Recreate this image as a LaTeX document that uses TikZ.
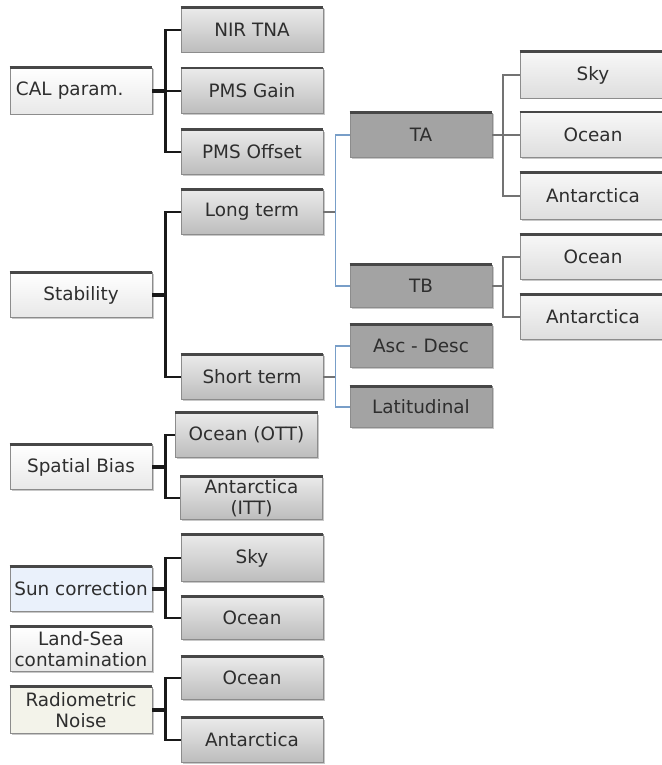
\documentclass[tikz,border=0pt]{standalone}
\usepackage{fontspec}
\setmainfont{DejaVu Sans}
\usetikzlibrary{shadows}
\definecolor{bluec}{RGB}{120,158,200}
\definecolor{sunfill}{RGB}{234,241,251}
\definecolor{radfill}{RGB}{243,243,234}
\tikzset{
  base/.style={draw=black!45, line width=0.6pt, minimum height=44pt, minimum width=142pt,
    inner sep=2pt, text=black!82, font=\fontsize{18.4}{21}\selectfont, align=center,
    drop shadow={shadow xshift=1.5pt, shadow yshift=-1.5pt, opacity=0.3, fill=black!70}},
  parentbox/.style={base, top color=white, bottom color=black!9},
  childbox/.style={base, top color=black!8, bottom color=black!26},
  leafbox/.style={base, top color=black!3, bottom color=black!13, minimum width=146pt},
  darkbox/.style={base, fill=black!36},
  topline/.style={line width=2.6pt, black!72},
  blackconn/.style={line width=2.5pt, black!90},
  stemconn/.style={line width=4pt, black!90},
  greyconn/.style={line width=2pt, black!55},
  blueconn/.style={line width=1.5pt, bluec},
}
\begin{document}
\begin{tikzpicture}[x=1pt,y=-1pt]
\useasboundingbox[fill=white] (0,0) rectangle (661,765);
% left parents
\node[parentbox, text width=130pt, align=left, minimum height=46pt] (cal) at (81,91) {CAL param.};
\node[parentbox, minimum height=45pt] (stab) at (81,295) {Stability};
\node[parentbox, minimum height=45pt] (spatial) at (81,467) {Spatial Bias};
\node[base, fill=sunfill, minimum height=45pt] (sun) at (81,589) {Sun correction};
\node[parentbox, minimum height=45pt] (land) at (81,649) {Land-Sea\\contamination};
\node[base, fill=radfill, minimum height=46pt] (radio) at (81,710) {Radiometric\\Noise};
% second column
\node[childbox] (nir) at (252,30) {NIR TNA};
\node[childbox, minimum height=45pt] (gain) at (252,91) {PMS Gain};
\node[childbox] (offset) at (252,152) {PMS Offset};
\node[childbox, minimum height=45pt] (long) at (252,212) {Long term};
\node[childbox, minimum height=45pt] (short) at (252,377) {Short term};
\node[childbox] (ott) at (246.5,435) {Ocean (OTT)};
\node[childbox, minimum height=43pt] (itt) at (251.5,498) {Antarctica\\(ITT)};
\node[childbox, minimum height=47pt] (sky2) at (252,558) {Sky};
\node[childbox, minimum height=43pt] (ocean2) at (252,618) {Ocean};
\node[childbox, minimum height=43pt] (ocean3) at (252,678) {Ocean};
\node[childbox] (antarc3) at (252,740) {Antarctica};
% third column
\node[darkbox] (ta) at (421,135) {TA};
\node[darkbox, minimum height=42pt] (tb) at (421,286) {TB};
\node[darkbox, minimum height=43pt] (asc) at (421,346) {Asc - Desc};
\node[darkbox, minimum height=41pt] (lat) at (421,407) {Latitudinal};
% fourth column
\node[leafbox, minimum height=46pt] (r1) at (593,75) {Sky};
\node[leafbox, minimum height=45pt] (r2) at (593,135) {Ocean};
\node[leafbox, minimum height=47pt] (r3) at (593,196) {Antarctica};
\node[leafbox, minimum height=45pt] (r4) at (593,257) {Ocean};
\node[leafbox, minimum height=45pt] (r5) at (593,317) {Antarctica};
% dark top borders
\foreach \n in {cal,stab,spatial,sun,land,radio,nir,gain,offset,long,short,ott,itt,sky2,ocean2,ocean3,antarc3,ta,tb,asc,lat,r1,r2,r3,r4,r5}
  \draw[topline] (\n.north west) -- (\n.north east);
% connectors: CAL
\draw[blackconn] (cal.east) ++(13,0) |- (nir.west);
\draw[blackconn] (cal.east) ++(13,0) |- (offset.west);
\draw[blackconn] (cal.east) -- (gain.west);
\draw[stemconn] (cal.east) -- ++(13,0);
% Stability
\draw[blackconn] (stab.east) ++(13,0) |- (long.west);
\draw[blackconn] (stab.east) ++(13,0) |- (short.west);
\draw[stemconn] (stab.east) -- ++(13,0);
% Spatial Bias
\draw[blackconn] (spatial.east) ++(13,0) |- (ott.west);
\draw[blackconn] (spatial.east) ++(13,0) |- (itt.west);
\draw[stemconn] (spatial.east) -- ++(13,0);
% Sun
\draw[blackconn] (sun.east) ++(13,0) |- (sky2.west);
\draw[blackconn] (sun.east) ++(13,0) |- (ocean2.west);
\draw[stemconn] (sun.east) -- ++(13,0);
% Radiometric
\draw[blackconn] (radio.east) ++(13,0) |- (ocean3.west);
\draw[blackconn] (radio.east) ++(13,0) |- (antarc3.west);
\draw[stemconn] (radio.east) -- ++(13,0);
% Long term / Short term
\draw[blueconn] (long.east) ++(12,0) |- (ta.west);
\draw[blueconn] (long.east) ++(12,0) |- (tb.west);
\draw[greyconn] (long.east) -- ++(12,0);
\draw[blueconn] (short.east) ++(12,0) |- (asc.west);
\draw[blueconn] (short.east) ++(12,0) |- (lat.west);
\draw[greyconn] (short.east) -- ++(12,0);
% TA / TB
\draw[greyconn] (ta.east) -- ++(11,0) |- (r1.west);
\draw[greyconn] (ta.east) -- ++(11,0) |- (r3.west);
\draw[greyconn] (ta.east) -- (r2.west);
\draw[greyconn] (tb.east) -- ++(11,0) |- (r4.west);
\draw[greyconn] (tb.east) -- ++(11,0) |- (r5.west);
\end{tikzpicture}
\end{document}
